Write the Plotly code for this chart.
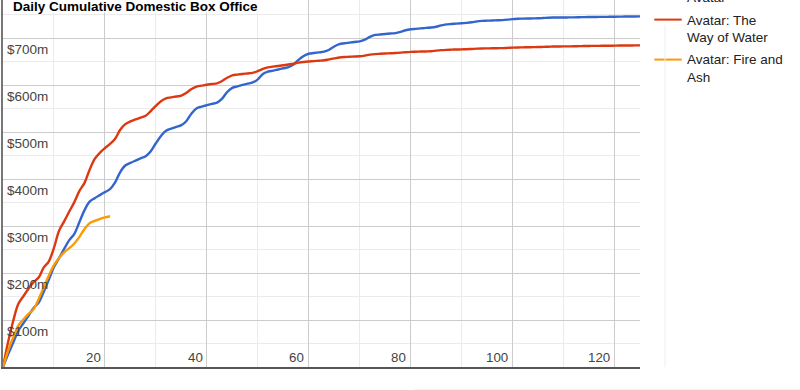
import plotly.graph_objects as go

# ---------------- data ----------------
days = list(range(0, 126))

avatar = [
    0, 26.8, 51.8, 77.0, 93.1, 109.0, 125.4, 137.1, 160.2, 186.1,
    212.7, 232.0, 251.5, 270.0, 283.6, 308.9, 334.0, 352.1, 359.5, 366.0,
    372.3, 378.7, 393.0, 415.0, 429.0, 434.5, 439.5, 444.3, 448.9, 459.4,
    476.4, 491.8, 503.2, 507.6, 511.3, 514.9, 523.9, 539.9, 550.9, 554.5,
    557.5, 560.3, 563.0, 571.5, 585.5, 594.3, 597.5, 600.5, 603.2, 605.8,
    612.5, 624.0, 628.8, 631.0, 633.5, 636.0, 638.5, 644.0, 654.0, 662.0,
    667.0, 668.5, 669.9, 671.3, 675.5, 682.5, 687.4, 689.2, 690.6, 692.0,
    693.3, 697.0, 703.0, 707.0, 708.0, 709.0, 710.0, 711.0, 713.5, 717.0,
    719.0, 720.0, 721.0, 722.0, 722.8, 724.5, 727.5, 729.5, 730.3, 731.1,
    731.9, 732.7, 734.0, 736.0, 737.0, 737.4, 737.8, 738.2, 738.6, 739.5,
    740.8, 741.5, 741.8, 742.0, 742.2, 742.4, 743.0, 743.6, 744.0, 744.1,
    744.2, 744.3, 744.4, 744.7, 745.0, 745.2, 745.3, 745.4, 745.5, 745.6,
    745.8, 746.0, 746.2, 746.3, 746.4, 746.5,
]

way_of_water = [
    0, 53.2, 97.9, 134.1, 150.7, 166.7, 180.6, 190.4, 212.0, 225.0,
    253.7, 290.0, 310.0, 331.0, 351.0, 375.0, 392.0, 420.0, 443.0, 456.0,
    466.0, 475.0, 486.0, 505.0, 517.0, 523.0, 527.0, 531.0, 535.0, 545.0,
    556.0, 566.0, 572.0, 574.0, 576.0, 578.0, 584.0, 592.0, 597.0, 599.0,
    601.0, 602.5, 604.0, 609.0, 616.0, 621.0, 622.5, 623.8, 625.0, 626.2,
    630.0, 634.5, 638.0, 639.5, 641.0, 642.5, 644.0, 646.0, 648.0, 649.5,
    650.5, 651.3, 652.1, 653.0, 655.0, 657.0, 659.0, 660.0, 660.5, 661.0,
    661.5, 663.0, 665.0, 666.2, 666.8, 667.4, 668.0, 668.5, 669.3, 670.3,
    671.0, 671.3, 671.6, 671.9, 672.2, 673.5, 674.6, 675.3, 675.7, 676.0,
    676.3, 676.6, 677.2, 677.8, 678.2, 678.4, 678.6, 678.8, 679.0, 679.5,
    680.0, 680.4, 680.6, 680.8, 681.0, 681.2, 681.6, 682.0, 682.4, 682.5,
    682.6, 682.7, 682.8, 683.1, 683.4, 683.6, 683.7, 683.8, 683.9, 684.0,
    684.2, 684.4, 684.5, 684.6, 684.7, 684.8,
]

fire_and_ash_days = list(range(0, 22))
fire_and_ash = [
    0, 35, 63, 88, 101, 113, 123, 145, 170, 195,
    217, 232, 244, 253, 263, 277, 294, 306, 311, 315,
    318.5, 321,
]

series_names = ["Avatar", "Avatar: The Way of Water", "Avatar: Fire and Ash"]
colors = ["#3366cc", "#dc3912", "#ff9900"]

x_tick_vals = [20, 40, 60, 80, 100, 120]
y_tick_vals = [100, 200, 300, 400, 500, 600, 700]
title_text = "Daily Cumulative Domestic Box Office"

# ---------------- layout geometry ----------------
W, H = 800, 390
L, R, T, B = 3, 160, 0, 23
PW = W - L - R
PH = H - T - B

def px_x(p):
    return (p - L) / PW

def px_y(q):
    return (T + PH - q) / PH

FONT = "Arial, Liberation Sans, sans-serif"
LW = 2.4

fig = go.Figure()
fig.add_trace(go.Scatter(x=days, y=avatar, mode="lines", name=series_names[0],
                         line=dict(color=colors[0], width=LW, shape="spline", smoothing=1)))
fig.add_trace(go.Scatter(x=days, y=way_of_water, mode="lines", name=series_names[1],
                         line=dict(color=colors[1], width=LW, shape="spline", smoothing=1)))
fig.add_trace(go.Scatter(x=fire_and_ash_days, y=fire_and_ash, mode="lines", name=series_names[2],
                         line=dict(color=colors[2], width=LW, shape="spline", smoothing=1)))

annotations = []
shapes = []

# title with white background box
shapes.append(dict(type="rect", xref="paper", yref="paper",
                   x0=px_x(4.5), x1=px_x(262), y0=px_y(12.5), y1=px_y(-1),
                   fillcolor="white", line=dict(width=0), layer="above"))
annotations.append(dict(xref="paper", yref="paper", x=px_x(10.5), y=px_y(7),
                        xanchor="left", yanchor="middle", showarrow=False,
                        text="<b>" + title_text + "</b>",
                        font=dict(family=FONT, size=13.5, color="#000000")))

# x tick labels (inside plot, left of gridline)
for v in x_tick_vals:
    annotations.append(dict(xref="x", yref="paper", x=v, y=px_y(357.3),
                            xanchor="right", yanchor="middle", xshift=-2.3,
                            showarrow=False, text=str(v),
                            font=dict(family=FONT, size=13.3, color="#444444")))

# y tick labels (inside plot, below gridline)
for v in y_tick_vals:
    annotations.append(dict(xref="paper", yref="y", x=px_x(5.3), y=v,
                            xanchor="left", yanchor="middle", yshift=-11.6,
                            showarrow=False, text="$%dm" % v,
                            font=dict(family=FONT, size=13.5, color="#444444")))

# legend (custom, first entry partly above the visible area as in the reference)
legend_items = [
    (colors[0], -2.7, [series_names[0]]),
    (colors[1], 19.6, ["Avatar: The", "Way of Water"]),
    (colors[2], 59.6, ["Avatar: Fire and", "Ash"]),
]
for col, yc, lines in legend_items:
    shapes.append(dict(type="line", xref="paper", yref="paper",
                       x0=px_x(654.3), x1=px_x(681.7), y0=px_y(yc), y1=px_y(yc),
                       line=dict(color=col, width=2)))
    for i, t in enumerate(lines):
        annotations.append(dict(xref="paper", yref="paper", x=px_x(684.7), y=px_y(yc + 0.4 + i * 17.3),
                                xanchor="left", yanchor="middle", showarrow=False, text=t,
                                font=dict(family=FONT, size=13.5, color="#222222")))

# faint frame lines outside the plot
shapes.append(dict(type="line", xref="paper", yref="paper",
                   x0=px_x(665), x1=px_x(665), y0=px_y(25), y1=px_y(367),
                   line=dict(color="#eeeeee", width=1)))
shapes.append(dict(type="line", xref="paper", yref="paper",
                   x0=px_x(415), x1=px_x(800), y0=px_y(389.3), y1=px_y(389.3),
                   line=dict(color="#eeeeee", width=1)))

fig.update_layout(
    width=W, height=H,
    margin=dict(l=L, r=R, t=T, b=B, pad=0),
    paper_bgcolor="white", plot_bgcolor="white",
    showlegend=False,
    font=dict(family=FONT, size=13.5, color="#444444"),
    annotations=annotations,
    shapes=shapes,
    xaxis=dict(range=[0, 125], tickmode="linear", tick0=0, dtick=20,
               showticklabels=False, ticks="",
               showgrid=True, gridcolor="#cccccc", gridwidth=1,
               minor=dict(tickmode="linear", tick0=0, dtick=10, showgrid=True,
                          gridcolor="#ebebeb", gridwidth=1, ticks=""),
               zeroline=False, showline=True, linecolor="#555555", linewidth=1.5,
               fixedrange=True),
    yaxis=dict(range=[0, 781.4], tickmode="linear", tick0=0, dtick=100,
               showticklabels=False, ticks="",
               showgrid=True, gridcolor="#cccccc", gridwidth=1,
               minor=dict(tickmode="linear", tick0=0, dtick=50, showgrid=True,
                          gridcolor="#ebebeb", gridwidth=1, ticks=""),
               zeroline=False, showline=True, linecolor="#777777", linewidth=1.5,
               fixedrange=True),
)

fig.write_html("out.html", config={"displayModeBar": False})
